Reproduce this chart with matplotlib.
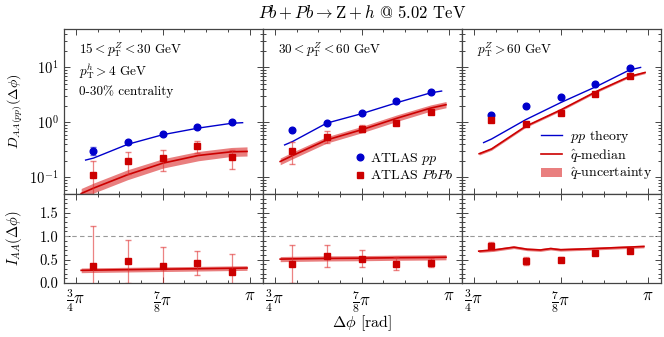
import numpy as np
import matplotlib
matplotlib.use('Agg')
import matplotlib.pyplot as plt
from matplotlib.ticker import FixedLocator, LogLocator, MultipleLocator, NullFormatter

plt.rcParams.update({
    'font.family': 'serif', 'font.serif': ['cmr10'], 'mathtext.fontset': 'cm',
    'axes.formatter.use_mathtext': True, 'axes.unicode_minus': False, 'font.size': 10,
})

# ---------------- data ----------------
panel_titles = [r"$15 < p_\mathrm{T}^Z < 30$ GeV", r"$30 < p_\mathrm{T}^Z < 60$ GeV", r"$p_\mathrm{T}^Z > 60$ GeV"]
dphi_pts = [2.435, 2.592, 2.749, 2.906, 3.063]

# D(dphi) data
pp_D_15_30 = [0.306, 0.433, 0.62, 0.81, 1.01]
pp_Derr_15_30 = [0.045, 0.02, 0.02, 0.02, 0.03]
pp_D_30_60 = [0.736, 0.96, 1.48, 2.41, 3.57]
pp_Derr_30_60 = [0.03, 0.03, 0.05, 0.06, 0.08]
pp_D_60 = [1.36, 2.01, 2.89, 5.1, 9.9]
pp_Derr_60 = [0.06, 0.06, 0.08, 0.1, 0.2]

aa_D_15_30 = [0.109, 0.20, 0.222, 0.366, 0.231]
aa_Derr_15_30 = [0.091, 0.085, 0.09, 0.087, 0.09]
aa_D_30_60 = [0.306, 0.55, 0.77, 0.99, 1.57]
aa_Derr_30_60 = [0.128, 0.135, 0.11, 0.05, 0.06]
aa_D_60 = [1.09, 0.93, 1.46, 3.23, 6.86]
aa_Derr_60 = [0.06, 0.06, 0.08, 0.15, 0.3]

# I_AA data
iaa_15_30 = [0.357, 0.46, 0.357, 0.435, 0.23]
iaaerr_15_30 = [0.86, 0.45, 0.42, 0.255, 0.38]
iaa_30_60 = [0.407, 0.57, 0.52, 0.41, 0.435]
iaaerr_30_60 = [0.41, 0.235, 0.175, 0.14, 0.09]
iaa_60 = [0.79, 0.46, 0.50, 0.63, 0.69]
iaaerr_60 = [0.075, 0.085, 0.05, 0.02, 0.02]

# theory curves
th_x_pp = [2.40, 2.436, 2.59, 2.75, 2.91, 3.06, 3.11]
th_x_aa = [2.38, 2.436, 2.59, 2.75, 2.91, 3.06, 3.13]

th_pp_15_30 = [0.207, 0.225, 0.40, 0.60, 0.79, 0.965, 0.99]
th_pp_30_60 = [0.39, 0.45, 0.97, 1.45, 2.3, 3.45, 3.72]
th_pp_60 = [0.43, 0.50, 1.12, 2.31, 4.5, 9.0, 10.0]

th_med_15_30 = [0.051, 0.064, 0.112, 0.182, 0.251, 0.293, 0.297]
th_lo_15_30 = [0.041, 0.052, 0.091, 0.148, 0.201, 0.241, 0.245]
th_hi_15_30 = [0.063, 0.079, 0.138, 0.219, 0.297, 0.351, 0.36]
th_med_30_60 = [0.195, 0.25, 0.48, 0.74, 1.2, 1.82, 2.1]
th_lo_30_60 = [0.17, 0.218, 0.42, 0.65, 1.05, 1.6, 1.85]
th_hi_30_60 = [0.225, 0.29, 0.55, 0.85, 1.38, 2.08, 2.4]
th_med_60 = [0.27, 0.33, 0.85, 1.70, 3.66, 6.86, 8.1]
th_lo_60 = [0.255, 0.313, 0.81, 1.62, 3.49, 6.55, 7.72]
th_hi_60 = [0.285, 0.347, 0.89, 1.78, 3.84, 7.2, 8.5]

iaa_th_x = [2.38, 2.436, 2.59, 2.75, 2.91, 3.06, 3.13]
iaa_th_med_15_30 = [0.27, 0.275, 0.285, 0.295, 0.305, 0.315, 0.32]
iaa_th_lo_15_30 = [0.22, 0.225, 0.235, 0.245, 0.255, 0.265, 0.27]
iaa_th_hi_15_30 = [0.32, 0.325, 0.335, 0.345, 0.355, 0.365, 0.37]
iaa_th_med_30_60 = [0.51, 0.515, 0.525, 0.53, 0.54, 0.545, 0.55]
iaa_th_lo_30_60 = [0.455, 0.46, 0.47, 0.475, 0.485, 0.49, 0.495]
iaa_th_hi_30_60 = [0.565, 0.57, 0.58, 0.585, 0.595, 0.60, 0.605]
iaa_th_x_60 = [2.378, 2.446, 2.537, 2.597, 2.657, 2.703, 2.748, 2.899, 3.125]
iaa_th_med_60 = [0.68, 0.705, 0.765, 0.72, 0.705, 0.735, 0.71, 0.735, 0.78]
iaa_th_lo_60 = [0.65, 0.675, 0.735, 0.69, 0.675, 0.705, 0.68, 0.705, 0.75]
iaa_th_hi_60 = [0.71, 0.735, 0.795, 0.75, 0.735, 0.765, 0.74, 0.765, 0.81]

xtick_vals = [3 * np.pi / 4, 7 * np.pi / 8, np.pi]
xtick_labels = [r"$\frac{3}{4}\pi$", r"$\frac{7}{8}\pi$", r"$\pi$"]

pp_D = [pp_D_15_30, pp_D_30_60, pp_D_60]
pp_Derr = [pp_Derr_15_30, pp_Derr_30_60, pp_Derr_60]
aa_D = [aa_D_15_30, aa_D_30_60, aa_D_60]
aa_Derr = [aa_Derr_15_30, aa_Derr_30_60, aa_Derr_60]
iaa = [iaa_15_30, iaa_30_60, iaa_60]
iaaerr = [iaaerr_15_30, iaaerr_30_60, iaaerr_60]
th_pp = [th_pp_15_30, th_pp_30_60, th_pp_60]
th_med = [th_med_15_30, th_med_30_60, th_med_60]
th_lo = [th_lo_15_30, th_lo_30_60, th_lo_60]
th_hi = [th_hi_15_30, th_hi_30_60, th_hi_60]
iaa_x = [iaa_th_x, iaa_th_x, iaa_th_x_60]
iaa_med = [iaa_th_med_15_30, iaa_th_med_30_60, iaa_th_med_60]
iaa_lo = [iaa_th_lo_15_30, iaa_th_lo_30_60, iaa_th_lo_60]
iaa_hi = [iaa_th_hi_15_30, iaa_th_hi_30_60, iaa_th_hi_60]

# ---------------- style ----------------
BLUE = '#0000cc'
RED = '#cc0000'
BAND = '#d40000'
SPINE = '#444444'

W, H = 664, 337
fig = plt.figure(figsize=(W / 100, H / 100), dpi=100)

left0 = 63.5
pw = 199.0
top_y0, top_y1 = 29.0, 194.0
bot_y1 = 283.0

minor_x = [3 * np.pi / 4 + k * np.pi / 32 for k in range(9)]


def style_ax(ax):
    for s in ax.spines.values():
        s.set_color(SPINE)
        s.set_linewidth(0.9)
    ax.tick_params(which='both', direction='in', top=True, right=True, colors=SPINE,
                   labelcolor='black', width=0.7, labelsize=10.5)
    ax.tick_params(which='major', length=4)
    ax.tick_params(which='minor', length=2.2)
    ax.set_xlim(2.3, 3.2)
    ax.xaxis.set_major_locator(FixedLocator(xtick_vals))
    ax.xaxis.set_minor_locator(FixedLocator(minor_x))


for i in range(3):
    x0 = (left0 + i * pw) / W
    axt = fig.add_axes([x0, (H - top_y1) / H, pw / W, (top_y1 - top_y0) / H])
    axb = fig.add_axes([x0, (H - bot_y1) / H, pw / W, (bot_y1 - top_y1) / H])
    for ax in (axt, axb):
        style_ax(ax)

    # --- top panel ---
    axt.set_yscale('log')
    axt.set_ylim(0.05, 50)
    axt.yaxis.set_major_locator(LogLocator(base=10, numticks=10))
    axt.yaxis.set_minor_locator(LogLocator(base=10, subs=np.arange(2, 10), numticks=20))
    axt.yaxis.set_minor_formatter(NullFormatter())
    axt.fill_between(th_x_aa, th_lo[i], th_hi[i], color=BAND, alpha=0.5, lw=0,
                     label=r"$\hat{q}$-uncertainty")
    ln_pp, = axt.plot(th_x_pp, th_pp[i], color=BLUE, lw=1.0, label=r"$pp$ theory")
    ln_med, = axt.plot(th_x_aa, th_med[i], color=RED, lw=1.2, label=r"$\hat{q}$-median")
    axt.errorbar(dphi_pts, pp_D[i], yerr=pp_Derr[i], fmt='none', ecolor=BLUE,
                 elinewidth=0.8, capsize=2, alpha=0.6)
    axt.errorbar(dphi_pts, aa_D[i], yerr=aa_Derr[i], fmt='none', ecolor='#e03030',
                 elinewidth=0.9, capsize=2.2, alpha=0.6)
    mk_pp, = axt.plot(dphi_pts, pp_D[i], 'o', color=BLUE, ms=4.8, ls='none', label=r"ATLAS $pp$")
    mk_aa, = axt.plot(dphi_pts, aa_D[i], 's', color=RED, ms=5.0, ls='none', label=r"ATLAS $PbPb$")
    axt.tick_params(labelbottom=False)
    axt.text(0.08, 0.875, panel_titles[i], transform=axt.transAxes, fontsize=9.5,
             ha='left', va='center')

    # --- bottom panel ---
    axb.set_ylim(0, 1.9)
    axb.yaxis.set_major_locator(FixedLocator([0.0, 0.5, 1.0, 1.5]))
    axb.yaxis.set_minor_locator(MultipleLocator(0.1))
    axb.axhline(1.0, color='#999999', lw=0.8, ls=(0, (4, 3)))
    axb.fill_between(iaa_x[i], iaa_lo[i], iaa_hi[i], color=BAND, alpha=0.5, lw=0)
    axb.plot(iaa_x[i], iaa_med[i], color=RED, lw=1.2)
    axb.errorbar(dphi_pts, iaa[i], yerr=iaaerr[i], fmt='none', ecolor='#e03030',
                 elinewidth=0.9, capsize=2.2, alpha=0.6)
    axb.plot(dphi_pts, iaa[i], 's', color=RED, ms=5.0, ls='none')
    axb.set_xticklabels(xtick_labels, fontsize=12)
    axb.yaxis.set_major_formatter(matplotlib.ticker.FormatStrFormatter('%.1f'))

    if i == 0:
        axt.set_ylabel(r"$D_{AA(pp)}(\Delta\phi)$", fontsize=10)
        axb.set_ylabel(r"$I_{AA}(\Delta\phi)$", fontsize=10.5)
        axt.yaxis.set_label_coords(-0.2, 0.5)
        axb.yaxis.set_label_coords(-0.2, 0.5)
        axt.text(0.08, 0.745, r"$p_\mathrm{T}^h > 4$ GeV", transform=axt.transAxes,
                 fontsize=9.5, ha='left', va='center')
        axt.text(0.08, 0.62, "0-30% centrality", transform=axt.transAxes,
                 fontsize=9.5, ha='left', va='center')
    else:
        axt.tick_params(labelleft=False)
        axb.tick_params(labelleft=False)

    if i == 1:
        axt.legend(handles=[mk_pp, mk_aa], loc='lower right', frameon=False, fontsize=10,
                   handlelength=0.8, handletextpad=0.3, borderaxespad=0.2,
                   labelspacing=0.15, bbox_to_anchor=(1.0, 0.02))
    if i == 2:
        poly = axt.collections[0]
        axt.legend(handles=[ln_pp, ln_med, poly], loc='lower right', frameon=False,
                   fontsize=10, handlelength=1.5, handletextpad=0.6, borderaxespad=0.2,
                   labelspacing=0.12, bbox_to_anchor=(1.0, 0.02))

fig.text((left0 + 1.5 * pw) / W, 1 - 12 / H, r"$Pb + Pb \rightarrow \mathrm{Z} + h$ @ 5.02 TeV",
         ha='center', va='center', fontsize=12)
fig.text((left0 + 1.5 * pw) / W, 1 - 323 / H, r"$\Delta\phi$ [rad]", ha='center', va='center',
         fontsize=11.5)

fig.savefig('out.png', dpi=100)
